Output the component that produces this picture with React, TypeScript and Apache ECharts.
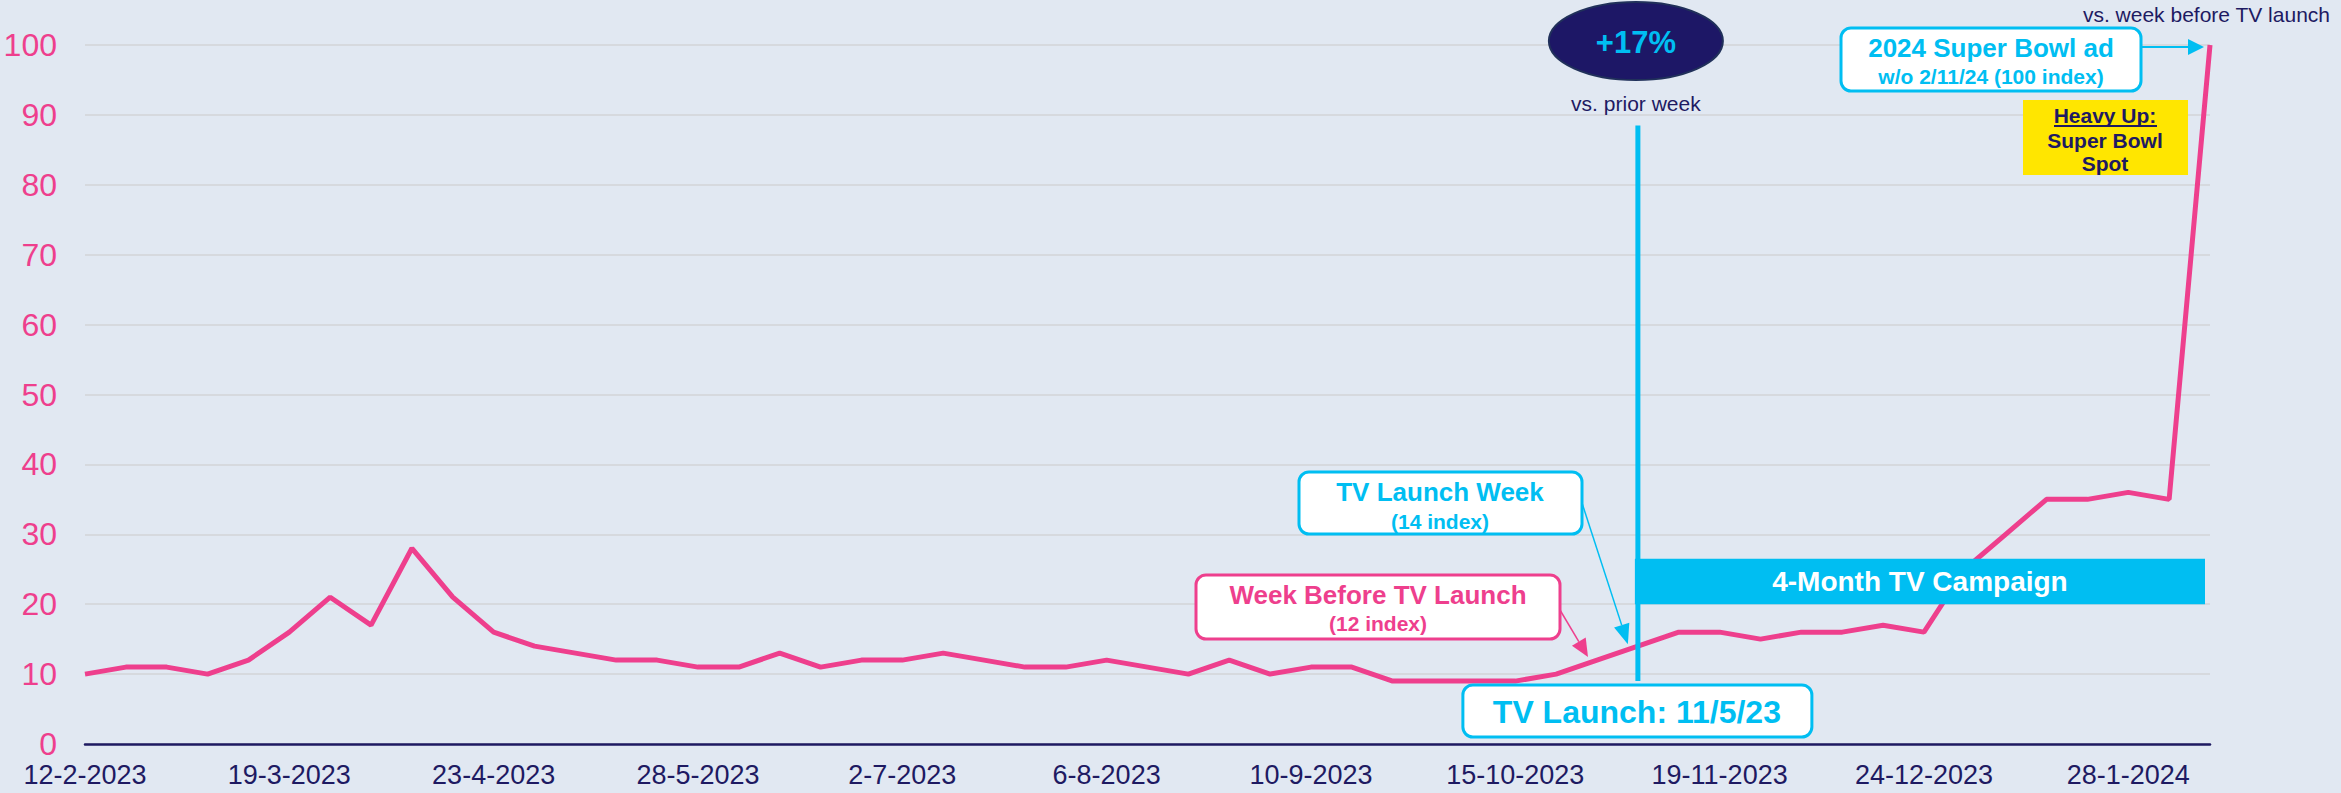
import React, { useEffect, useRef } from "react";
import * as echarts from "echarts";

const weeks: string[] = [
  "12-2-2023", "19-2-2023", "26-2-2023", "5-3-2023", "12-3-2023", "19-3-2023", "26-3-2023",
  "2-4-2023", "9-4-2023", "16-4-2023", "23-4-2023", "30-4-2023", "7-5-2023", "14-5-2023",
  "21-5-2023", "28-5-2023", "4-6-2023", "11-6-2023", "18-6-2023", "25-6-2023", "2-7-2023",
  "9-7-2023", "16-7-2023", "23-7-2023", "30-7-2023", "6-8-2023", "13-8-2023", "20-8-2023",
  "27-8-2023", "3-9-2023", "10-9-2023", "17-9-2023", "24-9-2023", "1-10-2023", "8-10-2023",
  "15-10-2023", "22-10-2023", "29-10-2023", "5-11-2023", "12-11-2023", "19-11-2023",
  "26-11-2023", "3-12-2023", "10-12-2023", "17-12-2023", "24-12-2023", "31-12-2023",
  "7-1-2024", "14-1-2024", "21-1-2024", "28-1-2024", "4-2-2024", "11-2-2024",
];

const searchIndex: number[] = [
  10, 11, 11, 10, 12, 16, 21, 17, 28, 21,
  16, 14, 13, 12, 12, 11, 11, 13, 11, 12,
  12, 13, 12, 11, 11, 12, 11, 10, 12, 10,
  11, 11, 9, 9, 9, 9, 10, 12, 14, 16,
  16, 15, 16, 16, 17, 16, 25, 30, 35, 35,
  36, 35, 100,
];

const yMin = 0;
const yMax = 100;
const yStep = 10;

const launchIdx = 38;
const weekBeforeIdx = 37;
const superBowlIdx = 52;
const campaignBand: number[] = [20, 26.5];
const launchLineSpan: number[] = [9, 88.5];

const FONT = "'Liberation Sans', Arial, Helvetica, sans-serif";
const PINK = "#EE3F8D";
const CYAN = "#00BEF2";
const NAVY = "#1E1A62";
const BG = "#E1E8F2";
const GRIDC = "#D6D9DE";

function txt(x: number, y: number, text: string, size: number, color: string, bold = true, align = "center") {
  return {
    type: "text",
    z: 20,
    x,
    y,
    style: {
      text,
      fill: color,
      fontSize: size,
      fontWeight: bold ? "bold" : "normal",
      fontFamily: FONT,
      align,
      verticalAlign: "middle",
      textAlign: align,
      textVerticalAlign: "middle",
    },
  };
}

function box(x: number, y: number, w: number, h: number, stroke: string) {
  return {
    type: "rect",
    z: 15,
    shape: { x, y, width: w, height: h, r: 10 },
    style: { fill: "#FFFFFF", stroke, lineWidth: 3 },
  };
}

function arrow(x1: number, y1: number, x2: number, y2: number, color: string, lw: number, hl: number, hw: number) {
  const dx = x2 - x1;
  const dy = y2 - y1;
  const len = Math.sqrt(dx * dx + dy * dy);
  const ux = dx / len;
  const uy = dy / len;
  const bx = x2 - ux * hl;
  const by = y2 - uy * hl;
  const px = -uy;
  const py = ux;
  return [
    { type: "line", z: 16, shape: { x1, y1, x2: bx, y2: by }, style: { stroke: color, lineWidth: lw } },
    {
      type: "polygon",
      z: 16,
      shape: { points: [[x2, y2], [bx + px * hw, by + py * hw], [bx - px * hw, by - py * hw]] },
      style: { fill: color },
    },
  ];
}

export default function App() {
  const ref = useRef<HTMLDivElement>(null);
  useEffect(() => {
    if (!ref.current) return;
    const chart = echarts.init(ref.current, null, { renderer: "svg" });
    chart.setOption({
      animation: false,
      backgroundColor: BG,
      grid: { left: 85, right: 131, top: 45, bottom: 49, containLabel: false },
      xAxis: {
        type: "category",
        data: weeks,
        boundaryGap: false,
        axisLine: { show: true, lineStyle: { color: NAVY, width: 2.5 } },
        axisTick: { show: false },
        axisLabel: {
          interval: 4,
          color: NAVY,
          fontSize: 27,
          fontFamily: FONT,
          margin: 17,
        },
        splitLine: { show: false },
      },
      yAxis: {
        type: "value",
        min: yMin,
        max: yMax,
        interval: yStep,
        axisLine: { show: false },
        axisTick: { show: false },
        axisLabel: { color: PINK, fontSize: 32, fontFamily: FONT, margin: 28 },
        splitLine: { show: true, lineStyle: { color: GRIDC, width: 2 } },
      },
      series: [
        {
          type: "line",
          data: searchIndex,
          symbol: "none",
          lineStyle: { color: PINK, width: 5 },
          z: 5,
        },
      ],
    });

    const P = (i: number, v: number) => chart.convertToPixel({ gridIndex: 0 }, [i, v]) as number[];
    const launchTop = P(launchIdx, launchLineSpan[1]);
    const launchBot = P(launchIdx, launchLineSpan[0]);
    const lx = launchTop[0];
    const bandTop = P(launchIdx, campaignBand[1])[1];
    const bandBot = P(launchIdx, campaignBand[0])[1];
    const lastPt = P(superBowlIdx, searchIndex[superBowlIdx]);
    const launchPt = P(launchIdx, searchIndex[launchIdx]);
    const beforePt = P(weekBeforeIdx, searchIndex[weekBeforeIdx]);
    const bandRight = lastPt[0] - 5;

    const graphics: any[] = [
      {
        type: "ellipse",
        z: 15,
        shape: { cx: lx - 2, cy: 41, rx: 87, ry: 39 },
        style: { fill: "#1D1766", stroke: "#20305A", lineWidth: 2 },
      },
      txt(lx - 2, 42, "+17%", 31, CYAN),
      txt(lx - 2, 103, "vs. prior week", 21, NAVY, false),
      txt(2330, 14, "vs. week before TV launch", 21, NAVY, false, "right"),
      box(1841, 28, 300, 63, CYAN),
      txt(1991, 48, "2024 Super Bowl ad", 26, CYAN),
      txt(1991, 76, "w/o 2/11/24 (100 index)", 21, CYAN),
      ...arrow(2141, 47, lastPt[0] - 6, 47, CYAN, 2, 16, 8),
      { type: "rect", z: 15, shape: { x: 2023, y: 100, width: 165, height: 75 }, style: { fill: "#FFE600" } },
      txt(2105, 115, "Heavy Up:", 21, NAVY),
      { type: "line", z: 16, shape: { x1: 2054, y1: 126, x2: 2157, y2: 126 }, style: { stroke: NAVY, lineWidth: 2 } },
      txt(2105, 140, "Super Bowl", 21, NAVY),
      txt(2105, 163, "Spot", 21, NAVY),
      {
        type: "line",
        z: 14,
        shape: { x1: lx, y1: launchTop[1], x2: lx, y2: launchBot[1] },
        style: { stroke: CYAN, lineWidth: 5 },
      },
      {
        type: "rect",
        z: 14,
        shape: { x: lx - 3, y: bandTop, width: bandRight - lx + 3, height: bandBot - bandTop },
        style: { fill: CYAN },
      },
      txt((lx - 3 + bandRight) / 2, (bandTop + bandBot) / 2, "4-Month TV Campaign", 28, "#FFFFFF"),
      box(lx - 175, 685, 349, 52, CYAN),
      txt(lx - 1, 712, "TV Launch: 11/5/23", 32, CYAN),
      box(1299, 472, 283, 62, CYAN),
      txt(1440, 492, "TV Launch Week", 26, CYAN),
      txt(1440, 521, "(14 index)", 21, CYAN),
      ...arrow(1582, 503, launchPt[0] - 10, launchPt[1] - 2, CYAN, 1.5, 20, 8),
      box(1196, 575, 364, 64, PINK),
      txt(1378, 595, "Week Before TV Launch", 26, PINK),
      txt(1378, 623, "(12 index)", 21, PINK),
      ...arrow(1560, 610, beforePt[0] - 9, beforePt[1] - 3, PINK, 1.5, 18, 8),
    ];
    chart.setOption({ graphic: graphics });
    return () => chart.dispose();
  }, []);
  return (
    <div
      ref={ref}
      style={{ position: "fixed", left: 0, top: 0, width: 2341, height: 793 }}
    />
  );
}
